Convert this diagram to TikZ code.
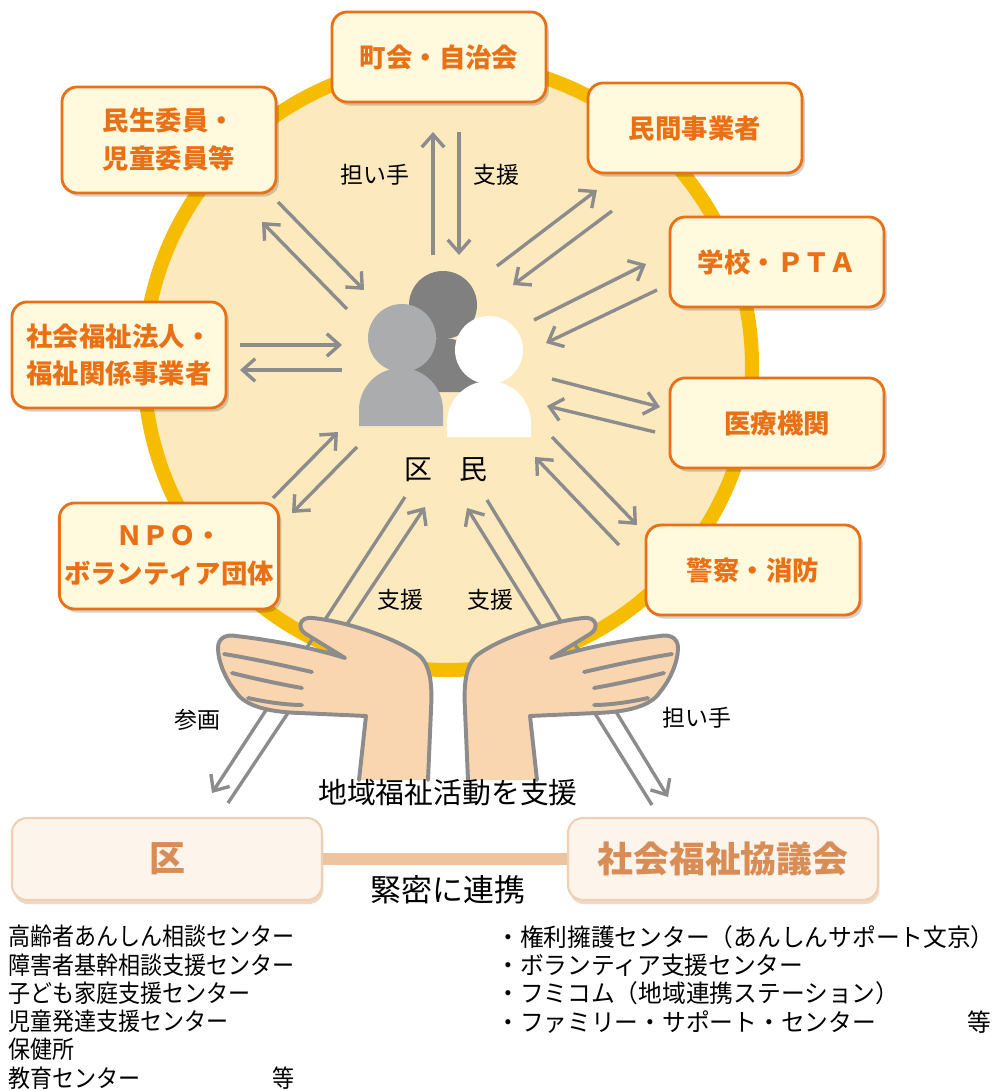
\documentclass[tikz,border=0pt]{standalone}
\usepackage{fontspec}
\setmainfont{Noto Sans CJK JP}
\newfontfamily\listfont{Noto Sans CJK JP}[FakeStretch=0.9]
\newfontfamily\widelistfont{Noto Sans CJK JP}[FakeStretch=0.97]
\usepackage{xcolor}
\usepackage{tikz}
\usetikzlibrary{arrows.meta,shadows}
\definecolor{wkorange}{RGB}{234,112,22}
\definecolor{wkcream}{RGB}{255,250,222}
\definecolor{wkdisc}{RGB}{253,233,190}
\definecolor{wkring}{RGB}{246,189,0}
\definecolor{wkgray}{RGB}{140,140,140}
\definecolor{wkdark}{RGB}{128,128,128}
\definecolor{wklight}{RGB}{170,172,173}
\definecolor{wkskin}{RGB}{249,214,176}
\definecolor{wktan}{RGB}{217,141,86}
\definecolor{wkpale}{RGB}{253,244,236}
\definecolor{wkedge}{RGB}{240,208,180}
\definecolor{wkbar}{RGB}{236,196,160}

\newcommand{\palm}{%
  \draw[hand] (359,780) -- (366,716) -- (300,713)
    .. controls (268,712) and (245,706) .. (236,692)
    .. controls (226,680) and (218,662) .. (218,648)
    .. controls (218,638) and (226,634) .. (236,636)
    .. controls (280,641) and (320,650) .. (345,658)
    -- (306,634)
    .. controls (296,628) and (300,616) .. (313,618)
    .. controls (350,622) and (400,640) .. (420,656)
    .. controls (432,668) and (432,690) .. (431,710)
    -- (428,780);
  \draw[crease] (224,654) .. controls (260,660) and (290,667) .. (312,672);
  \draw[crease] (232,673) .. controls (260,680) and (285,685) .. (302,688);
  \draw[crease] (248,698) .. controls (270,703) and (290,705) .. (302,705);}

\begin{document}
\begin{tikzpicture}[
  x=0.025cm,y=-0.025cm,
  org/.style={draw=wkorange,line width=2pt,fill=wkcream,rounded corners=0.38cm,
              minimum width=5.35cm,minimum height=2.25cm,align=center,text=wkorange,
              font=\fontsize{18.8}{27}\selectfont\bfseries,
              drop shadow={shadow xshift=2pt,shadow yshift=-2.5pt,fill=black,opacity=0.18}},
  tall/.style={minimum height=2.65cm},
  hub/.style={draw=wkedge,line width=1.5pt,fill=wkpale,rounded corners=0.38cm,
              minimum width=7.75cm,minimum height=2.05cm,text=wktan,
              font=\fontsize{25.5}{30}\selectfont\bfseries,
              drop shadow={shadow xshift=1pt,shadow yshift=-3pt,fill=wktan,opacity=0.35}},
  flow/.style={draw=wkgray,line width=2.4pt,-{Straight Barb[length=9pt,width=16pt]}},
  lbl/.style={font=\fontsize{16.3}{19}\selectfont},
  hand/.style={fill=wkskin,draw=wkgray,line width=2.8pt,line join=round,line cap=round},
  crease/.style={draw=wkgray,line width=2.8pt,line cap=round},
  listing/.style={anchor=north west,inner sep=0pt,align=left}
]
\useasboundingbox (0,0) rectangle (1005,1091);
\draw[wkring,line width=10pt,fill=wkdisc] (448,366) circle[radius=304];

\node[org] (chokai) at (439,57) {町会・自治会};
\node[org,tall] (minsei) at (169,140) {民生委員・\\児童委員等};
\node[org] (minkan) at (695,128) {民間事業者};
\node[org] (gakko) at (777,262) {学校・ＰＴＡ};
\node[org,tall] (houjin) at (119,355) {社会福祉法人・\\福祉関係事業者};
\node[org] (iryo) at (777,423) {医療機関};
\node[org,tall] (npo) at (169,556) {ＮＰＯ・\\ボランティア団体};
\node[org] (keisatsu) at (753,570) {警察・消防};

\coordinate (chA1) at (433,255); \coordinate (chA2) at (433,132);
\coordinate (chB1) at (459,132); \coordinate (chB2) at (459,255);
\coordinate (msA1) at (347,309); \coordinate (msA2) at (262,222);
\coordinate (msB1) at (278,202); \coordinate (msB2) at (364,290);
\coordinate (mkA1) at (497,266); \coordinate (mkA2) at (597,190);
\coordinate (mkB1) at (612,211); \coordinate (mkB2) at (513,285);
\coordinate (gkA1) at (534,320); \coordinate (gkA2) at (646,264);
\coordinate (gkB1) at (657,290); \coordinate (gkB2) at (546,343);
\coordinate (hjA1) at (240,345); \coordinate (hjA2) at (342,345);
\coordinate (hjB1) at (342,370); \coordinate (hjB2) at (240,370);
\coordinate (irA1) at (552,379); \coordinate (irA2) at (660,407);
\coordinate (irB1) at (655,432); \coordinate (irB2) at (547,406);
\coordinate (ksA1) at (552,437); \coordinate (ksA2) at (637,525);
\coordinate (ksB1) at (619,545); \coordinate (ksB2) at (535,457);
\coordinate (npA1) at (273,498); \coordinate (npA2) at (338,432);
\coordinate (npB1) at (357,447); \coordinate (npB2) at (292,513);
\coordinate (kuA1) at (405,497); \coordinate (kuA2) at (212,793);
\coordinate (kuB1) at (228,803); \coordinate (kuB2) at (425,507);
\coordinate (skA1) at (487,500); \coordinate (skA2) at (668,797);
\coordinate (skB1) at (652,805); \coordinate (skB2) at (467,508);
\draw[flow] (chA1)--(chA2); \draw[flow] (chB1)--(chB2);
\draw[flow] (msA1)--(msA2); \draw[flow] (msB1)--(msB2);
\draw[flow] (mkA1)--(mkA2); \draw[flow] (mkB1)--(mkB2);
\draw[flow] (gkA1)--(gkA2); \draw[flow] (gkB1)--(gkB2);
\draw[flow] (hjA1)--(hjA2); \draw[flow] (hjB1)--(hjB2);
\draw[flow] (irA1)--(irA2); \draw[flow] (irB1)--(irB2);
\draw[flow] (ksA1)--(ksA2); \draw[flow] (ksB1)--(ksB2);
\draw[flow] (npA1)--(npA2); \draw[flow] (npB1)--(npB2);
\draw[flow] (kuA1)--(kuA2); \draw[flow] (kuB1)--(kuB2);
\draw[flow] (skA1)--(skA2); \draw[flow] (skB1)--(skB2);

% residents icon
\fill[wkdark] (443,305) circle[radius=34];
\fill[wkdark] (401,392) -- (401,380) arc[start angle=180,end angle=360,radius=42] -- (485,392) -- cycle;
\fill[wklight] (402,338) circle[radius=34];
\fill[wklight] (359,426) -- (359,410) arc[start angle=180,end angle=360,radius=42] -- (443,426) -- cycle;
\fill[white] (489,350) circle[radius=34];
\fill[white] (447,437) -- (447,423) arc[start angle=180,end angle=360,radius=42] -- (531,437) -- cycle;
\node[font=\fontsize{19.8}{22}\selectfont] (kumin) at (446,470) {区　民};

\node[lbl] (ninaiA) at (375,175) {担い手};
\node[lbl] (shienA) at (496,175) {支援};
\node[lbl] (shienB) at (400,600) {支援};
\node[lbl] (shienC) at (490,600) {支援};
\node[lbl] (sankaku) at (197,720) {参画};
\node[lbl] (ninaiB) at (697,718) {担い手};

% cupped hands
\palm
\begin{scope}[shift={(896,0)},xscale=-1]
\palm
\end{scope}

\node[font=\fontsize{20.5}{24}\selectfont] (katsudo) at (448,793) {地域福祉活動を支援};
\node[hub] (ku) at (167,859) {区};
\node[hub] (shakyo) at (723,859) {社会福祉協議会};
\draw[wkbar,line width=9.2pt] (ku.east) -- (shakyo.west);
\node[font=\fontsize{22}{26}\selectfont] (renkei) at (448,890) {緊密に連携};

\node[listing,font=\listfont\fontsize{17.4}{20.1}\selectfont] (kulist) at (8,925)
  {高齢者あんしん相談センター\\障害者基幹相談支援センター\\子ども家庭支援センター\\児童発達支援センター\\保健所\\教育センター};
\node[anchor=base,inner sep=0pt,font=\listfont\fontsize{17.4}{20.1}\selectfont] (kutou) at (284,1087) {等};
\node[listing,font=\widelistfont\fontsize{17.4}{20.1}\selectfont] (sklist) at (496,925)
  {・権利擁護センター（あんしんサポート文京）\\・ボランティア支援センター\\・フミコム（地域連携ステーション）\\・ファミリー・サポート・センター};
\node[anchor=base,inner sep=0pt,font=\widelistfont\fontsize{17.4}{20.1}\selectfont] (sktou) at (979,1031) {等};
\end{tikzpicture}
\end{document}
